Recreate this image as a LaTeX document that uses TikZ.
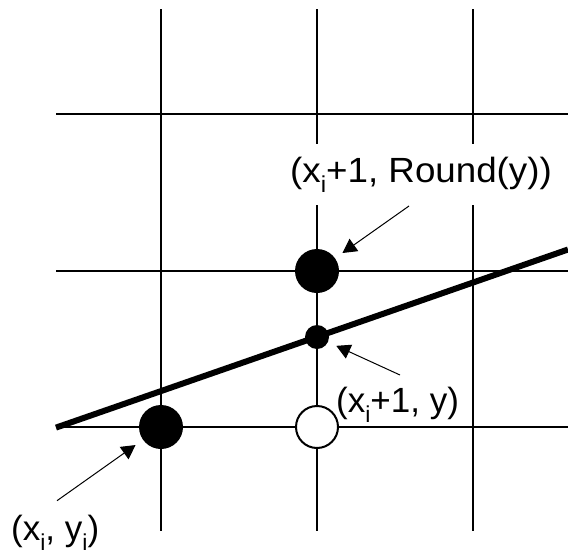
\documentclass[tikz,border=0pt]{standalone}
\usepackage{fontspec}
\setmainfont{Liberation Sans}
\usetikzlibrary{arrows.meta}
\newcommand\mysub[1]{\raisebox{-10pt}{\fontsize{23}{23}\selectfont #1}}
\begin{document}
\begin{tikzpicture}[x=1pt,y=-1pt,
  gridline/.style={line width=2pt},
  bigdot/.style={circle,fill=black,inner sep=0pt,minimum size=44pt},
  smalldot/.style={circle,fill=black,inner sep=0pt,minimum size=24pt},
  opendot/.style={circle,draw=black,fill=white,line width=2pt,inner sep=0pt,minimum size=42pt},
  pointer/.style={line width=1pt,-{Triangle[length=14pt,width=15pt]},shorten >=9pt},
  lbl/.style={font=\fontsize{35}{40}\selectfont,anchor=base west,inner xsep=0pt}
]
\useasboundingbox (0,0) rectangle (568,557);
% grid
\foreach \x in {161,317,473}{\draw[gridline] (\x,9) -- (\x,531);}
\foreach \y in {114,271,427}{\draw[gridline] (56,\y) -- (568,\y);}
% line
\coordinate (ls) at (56,427.6);
\coordinate (le) at (568,249.5);
\draw[line width=6pt] (ls) -- (le);
% points
\node[bigdot] (p0) at (161,427) {};
\node[bigdot] (pr) at (317,271) {};
\node[smalldot] (py) at (317,337) {};
\node[opendot] (po) at (317,427) {};
% arrows
\coordinate (t1) at (409,206);
\coordinate (t2) at (400,375);
\coordinate (t3) at (57,500.7);
\draw[pointer] (t1) -- (pr);
\draw[pointer] (t2) -- (py);
\draw[pointer] (t3) -- (p0);
% labels
\node[lbl,fill=white,inner ysep=13pt] (lr) at (290,182) {\scalebox{1.05}[1]{(x\mysub{i}+1, Round(y))}};
\node[lbl,inner ysep=0pt] (ly) at (336,412) {(x\mysub{i}+1, y)};
\node[lbl,inner ysep=0pt] (l0) at (11,540) {(x\mysub{i}, y\mysub{i})};
\end{tikzpicture}
\end{document}
